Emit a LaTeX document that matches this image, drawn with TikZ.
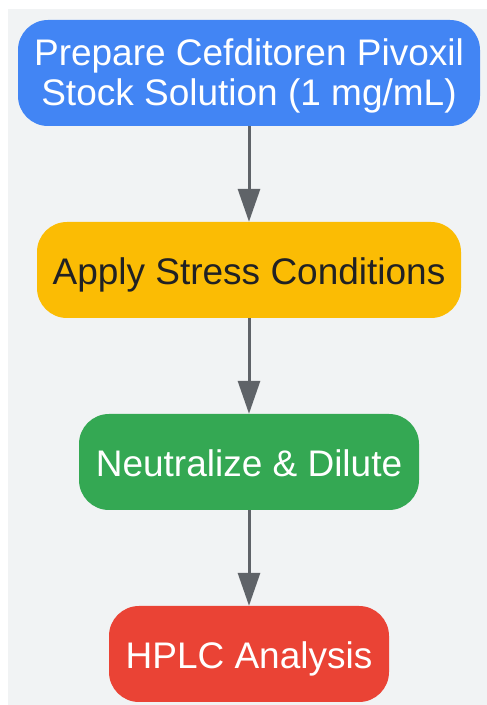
\documentclass[tikz,border=0pt]{standalone}
\usepackage{fontspec}
\setmainfont{Liberation Sans}
\usetikzlibrary{arrows.meta}
\definecolor{bgc}{HTML}{F1F3F4}
\definecolor{gblue}{HTML}{4285F4}
\definecolor{gyellow}{HTML}{FBBC04}
\definecolor{ggreen}{HTML}{34A853}
\definecolor{gred}{HTML}{EA4335}
\definecolor{gtext}{HTML}{202124}
\definecolor{garrow}{HTML}{5F6368}
\begin{document}
\begin{tikzpicture}[x=1pt,y=1pt,
  box/.style={rounded corners=30pt, inner sep=0pt, align=center,
    font=\fontsize{37}{40}\selectfont, minimum height=96pt,
    text height=30pt, text depth=0pt},
  conn/.style={draw=garrow, line width=3pt, -{Triangle[length=33pt,width=22pt]}}]
\useasboundingbox (0,0) rectangle (487,705);
\fill[bgc] (8,0) rectangle (487,696);
\node[box, fill=gblue, text=white, minimum width=462pt, minimum height=106pt, text height=71pt, text depth=5pt] (s1) at (249,632) {Prepare Cefditoren Pivoxil\\Stock Solution (1 mg/mL)};
\node[box, fill=gyellow, text=gtext, minimum width=424pt] (s2) at (249,435) {Apply Stress Conditions};
\node[box, fill=ggreen, text=white, minimum width=340pt] (s3) at (249,243) {Neutralize \& Dilute};
\node[box, fill=gred, text=white, minimum width=280pt] (s4) at (249,51) {HPLC Analysis};
\draw[conn] (s1.south) -- (s2.north);
\draw[conn] (s2.south) -- (s3.north);
\draw[conn] (s3.south) -- (s4.north);
\end{tikzpicture}
\end{document}
